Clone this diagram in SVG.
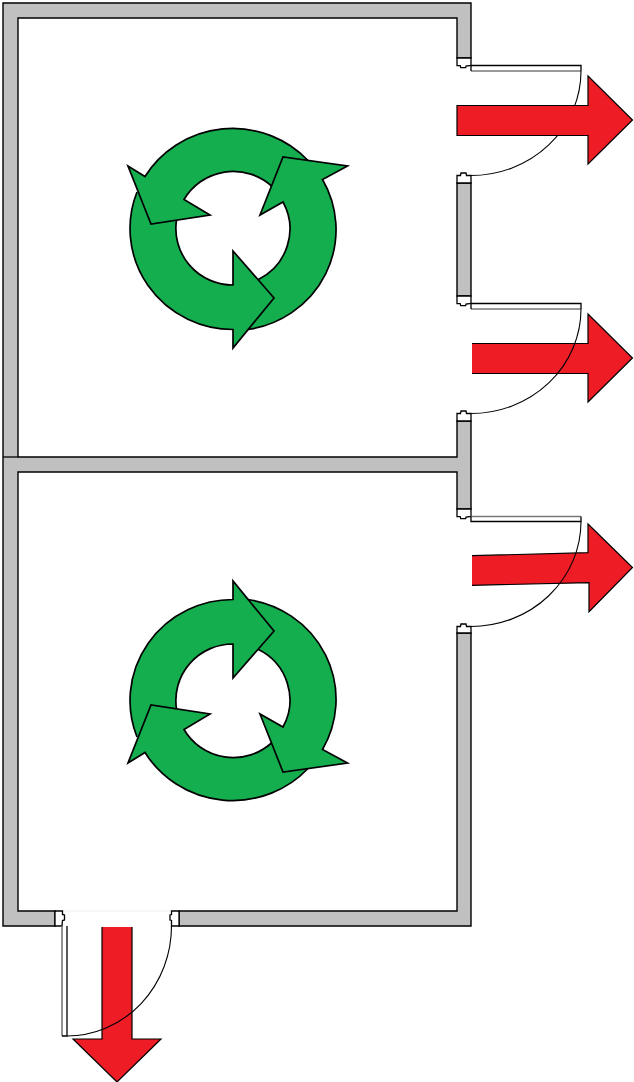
<svg xmlns="http://www.w3.org/2000/svg" width="634" height="1082" viewBox="0 0 634 1082">
<style>
.wall{fill:#c0c0c0;stroke:#000;stroke-width:1.4}
.jamb{fill:#fff;stroke:#000;stroke-width:1.3}
.edge{fill:none;stroke:#000;stroke-width:1.3}
.shade{fill:none;stroke:#777;stroke-width:1.6}
.swing{fill:none;stroke:#000;stroke-width:1.1}
.red{fill:#ee1c25;stroke:none}
.redline{fill:none;stroke:#000;stroke-width:1.2}
.turn-fill{fill:#15ae4f;stroke:none}
.turn-line{fill:none;stroke:#000;stroke-width:1.7}
</style>
<defs>
<g id="turns">
<path class="turn-fill" d="M248 329.5A103 101 0 0 0 322.5 179.5L347.5 166L283 157L260 215L283 202A57 56.5 0 0 1 258 279.7"/>
<path class="turn-fill" d="M137 192A103 101 0 0 0 233 329.5L233 348L274 298L233 251L233 285A57 56.5 0 0 1 176.5 220"/>
<path class="turn-fill" d="M308 160.5A103 101 0 0 0 145 176.5L128 166L151 224L210 215L184 199.5A57 56.5 0 0 1 271.5 186"/>
<path class="turn-line" d="M248 329.5A103 101 0 0 0 322.5 179.5L347.5 166L283 157L260 215L283 202A57 56.5 0 0 1 258 279.7"/>
<path class="turn-line" d="M137 192A103 101 0 0 0 233 329.5L233 348L274 298L233 251L233 285A57 56.5 0 0 1 176.5 220"/>
<path class="turn-line" d="M308 160.5A103 101 0 0 0 145 176.5L128 166L151 224L210 215L184 199.5A57 56.5 0 0 1 271.5 186"/>
</g>
</defs>
<g id="walls">
<path class="wall" d="M471 58V3H3V926H55V911H18V472H457V509H471V421H457V457H18V18H457V58Z"/>
<path class="wall" d="M457 183H471V296H457Z"/>
<path class="wall" d="M457 633H471V926H179V911H457Z"/>
<path class="edge" d="M3 457H18"/>
<path d="M62 911H171" fill="none" stroke="#eee" stroke-width="1"/>
</g>
<g id="jambs">
<path class="jamb" d="M457 58H471V65.5L466 66L465.7 67.7H460.7L460.2 65.7H457Z"/>
<path class="jamb" d="M457 183V175.5H460.5L461 173H466L466.5 175.5H471V183Z"/>
<path class="jamb" d="M457 296H471V303.5L466 304L465.7 305.7H460.7L460.2 303.7H457Z"/>
<path class="jamb" d="M457 421V413.5H460.5L461 411H466L466.5 413.5H471V421Z"/>
<path class="jamb" d="M457 509H471V516.5L466 517L465.7 518.7H460.7L460.2 516.7H457Z"/>
<path class="jamb" d="M457 633V626.5H460.5L461 624H466L466.5 626.5H471V633Z"/>
<path class="jamb" d="M55 911V926H62L62.5 920.5L64.5 920V915L62.5 914.5V911Z"/>
<path class="jamb" d="M179 911V926H171.5V920.5L170 920V915L171.5 914.5V911Z"/>
</g>
<g id="door-1">
<path class="shade" d="M471 71H581"/>
<path class="edge" d="M471 71V65.5H581V71"/>
<path class="swing" d="M581 71A110 104.5 0 0 1 471 175.5"/>
</g>
<g id="arrow-1">
<path class="red" d="M457 105.5H588V76L632.5 120L588 164V135.5H457Z"/>
<path class="redline" d="M457 105.5H588V76L632.5 120L588 164V135.5H457Z"/>
</g>
<g id="arrow-2">
<path class="red" d="M472 343.5H588V314L632.5 358L588 402V373.5H472Z"/>
<path class="redline" d="M472 343.5H588V314L632.5 358L588 402V373.5H472"/>
</g>
<g id="arrow-3">
<path class="red" d="M472 555.7L588 552.7V524L632.5 567.5L589 611.7V582.7L472 585.3Z"/>
<path class="redline" d="M472 555.7L588 552.7V524L632.5 567.5L589 611.7V582.7L472 585.3"/>
</g>
<g id="arrow-4">
<path class="red" d="M102 927H132V1039H161L117 1082L73 1039H102Z"/>
<path class="redline" d="M102 927V1039H73L117 1082L161 1039H132V927"/>
</g>
<g id="door-2">
<path class="shade" d="M471 309H581"/>
<path class="edge" d="M471 309V303.5H581V309"/>
<path class="swing" d="M581 309A110 104.5 0 0 1 471 413.5"/>
</g>
<g id="door-3">
<path class="shade" d="M471 516.5H581"/>
<path class="edge" d="M471 516.5V521.5H581V516.5"/>
<path class="swing" d="M581 521.5A110 105 0 0 1 471 626.5"/>
</g>
<g id="door-4">
<path class="shade" d="M62 926V1036"/>
<path class="edge" d="M67 926V1036H62"/>
<path class="swing" d="M67 1036A104.5 110 0 0 0 171.5 926"/>
</g>
<g id="cycle-upper"><use href="#turns"/></g>
<g id="cycle-lower"><use href="#turns" transform="translate(0 929) scale(1 -1)"/></g>
</svg>
